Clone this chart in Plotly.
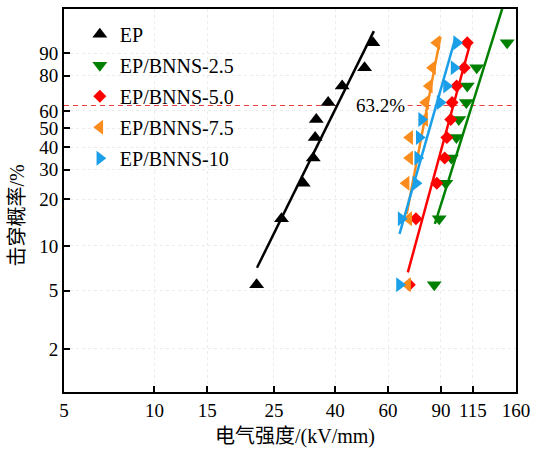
import numpy as np
import plotly.graph_objects as go

# Failure probability levels (%) shared by all series
prob = [5.5, 15, 25, 35, 45, 55, 65, 74.5, 84, 93.5]

# Breakdown strength (kV/mm)
ep       = [21.9, 26.5, 31.3, 33.8, 34.3, 34.6, 37.9, 42.2, 50.1, 53.4]
bnns_25  = [85.5, 88.8, 93.4, 97.5, 101.3, 103.2, 109.3, 110.1, 118.4, 149.5]
bnns_50  = [70.6, 74.3, 87.2, 92.6, 94.2, 97.0, 98.0, 101.5, 107.6, 110.1]
bnns_75  = [69.7, 70.3, 68.9, 70.8, 70.8, 79.4, 80.0, 82.3, 84.4, 87.2]
bnns_10  = [65.5, 66.3, 74.3, 75.3, 76.2, 77.6, 89.4, 93.9, 99.5, 101.5]

# Weibull fit lines: endpoints (strength, probability %)
fit_ep_x,  fit_ep_p  = [21.96, 53.8], [7.15, 96.3]
fit_25_x,  fit_25_p  = [85.9, 146.5], [13.9, 99.5]
fit_50_x,  fit_50_p  = [69.8, 112.6], [6.65, 93.3]
fit_75_x,  fit_75_p  = [69.2, 89.7], [16.1, 95.1]
fit_10_x,  fit_10_p  = [65.5, 100.4], [12.0, 94.6]

names = ["EP", "EP/BNNS-2.5", "EP/BNNS-5.0", "EP/BNNS-7.5", "EP/BNNS-10"]
colors = ["#000000", "#008000", "#ff0000", "#f98c1c", "#1a9fe8"]
symbols = ["triangle-up", "triangle-down", "diamond", "triangle-left", "triangle-right"]
sizes = [13, 13, 10, 13, 13]

y_ticks = [2, 5, 10, 20, 30, 40, 50, 60, 80, 90]
x_ticks = [5, 10, 15, 25, 40, 60, 90, 115, 160]


def wb(p):
    p = np.asarray(p, dtype=float) / 100.0
    return np.log(-np.log(1.0 - p))


serif = "Liberation Serif, Times New Roman, serif"
cjk = "Liberation Serif, Noto Sans CJK SC, serif"

fig = go.Figure()

# 63.2 % reference line (two segments around the label)
ref_p = 63.2
fig.add_trace(go.Scatter(x=[5, 40.3], y=wb([ref_p, ref_p]), mode="lines",
                         line=dict(color="#e8403c", width=1.2, dash="5px,4px"),
                         showlegend=False, hoverinfo="skip"))
fig.add_trace(go.Scatter(x=[69.7, 160], y=wb([ref_p, ref_p]), mode="lines",
                         line=dict(color="#e8403c", width=1.2, dash="5px,4px"),
                         showlegend=False, hoverinfo="skip"))

series = [ep, bnns_25, bnns_50, bnns_75, bnns_10]
fits = [(fit_ep_x, fit_ep_p), (fit_25_x, fit_25_p), (fit_50_x, fit_50_p),
        (fit_75_x, fit_75_p), (fit_10_x, fit_10_p)]

for i, (vals, (fx, fp)) in enumerate(zip(series, fits)):
    fig.add_trace(go.Scatter(x=vals, y=wb(prob), mode="markers", name=names[i],
                             legendgroup=names[i],
                             marker=dict(symbol=symbols[i], size=sizes[i], color=colors[i],
                                         line=dict(width=0))))
    fig.add_trace(go.Scatter(x=fx, y=wb(fp), mode="lines", legendgroup=names[i],
                             showlegend=False, line=dict(color=colors[i], width=2.5)))

fig.add_annotation(x=np.log10(46.2), y=float(wb([ref_p])[0]), xref="x", yref="y",
                   text="63.2%", showarrow=False, xanchor="left", yanchor="middle",
                   font=dict(family=serif, size=19, color="black"))

# axis titles
fig.add_annotation(x=0.511, y=-0.117, xref="paper", yref="paper", text="电气强度/(kV/mm)",
                   showarrow=False, xanchor="center", yanchor="middle",
                   font=dict(family=cjk, size=20, color="black"))
fig.add_annotation(x=-0.103, y=0.462, xref="paper", yref="paper", text="击穿概率/%",
                   showarrow=False, xanchor="center", yanchor="middle", textangle=-90,
                   font=dict(family=cjk, size=20, color="black"))

fig.update_xaxes(type="log", range=[np.log10(5), np.log10(160)],
                 tickvals=x_ticks, ticktext=[str(v) for v in x_ticks],
                 showline=True, linewidth=2, linecolor="black", mirror=True,
                 ticks="inside", ticklen=6, tickwidth=2, tickcolor="black",
                 showgrid=True, gridcolor="#ececec", griddash="dot", gridwidth=1,
                 tickfont=dict(family=serif, size=19, color="black"), zeroline=False)
fig.update_yaxes(range=[-4.593, 1.547],
                 tickvals=list(wb(y_ticks)), ticktext=[str(v) for v in y_ticks],
                 showline=True, linewidth=2, linecolor="black", mirror=True,
                 ticks="inside", ticklen=6, tickwidth=2, tickcolor="black",
                 showgrid=True, gridcolor="#ececec", griddash="dot", gridwidth=1,
                 tickfont=dict(family=serif, size=19, color="black"), zeroline=False)

fig.update_layout(width=537, height=450,
                  margin=dict(l=64, r=17, t=7, b=58),
                  paper_bgcolor="white", plot_bgcolor="white",
                  legend=dict(x=0.035, y=0.985, xanchor="left", yanchor="top",
                              bgcolor="rgba(0,0,0,0)", tracegroupgap=2,
                              font=dict(family=serif, size=20, color="black")),
                  showlegend=True)

fig.write_html("out.html", config={"displayModeBar": False},
               post_script="document.body.style.margin='0';document.body.style.padding='0';")
